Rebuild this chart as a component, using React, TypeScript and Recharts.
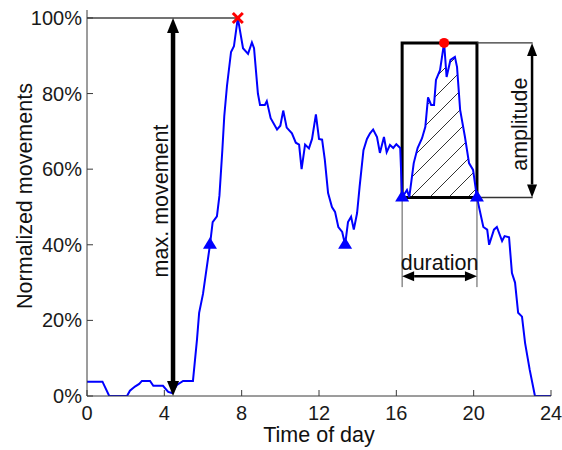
import React from 'react';
import {
  ComposedChart,
  Line,
  Area,
  XAxis,
  YAxis,
  ReferenceLine,
  ReferenceArea,
  ReferenceDot,
} from 'recharts';

// hour of day and normalized movement
const hours = [
  0, 0.8, 1.15, 2.07, 2.22, 2.48, 2.7, 2.84, 3.26, 3.43, 3.93, 4.2, 4.4, 4.65, 4.97, 5.48,
  5.69, 5.8, 6.0, 6.36, 6.5, 6.72, 6.85, 7.0, 7.1, 7.24, 7.45, 7.6, 7.8, 8.07, 8.33, 8.53,
  8.64, 8.84, 8.95, 9.2, 9.3, 9.5, 9.83, 10.0, 10.15, 10.33, 10.6, 10.8, 10.97, 11.1, 11.28,
  11.48, 11.64, 11.84, 12.0, 12.16, 12.3, 12.47, 12.67, 12.83, 13.0, 13.2, 13.35, 13.5,
  13.66, 13.8, 13.97, 14.1, 14.3, 14.48, 14.64, 14.8, 15.0, 15.15, 15.36, 15.5, 15.67,
  15.84, 16.0, 16.2, 16.3, 16.55, 16.67, 16.9, 17.1, 17.33, 17.5, 17.64, 17.8, 17.95, 18.05,
  18.26, 18.47, 18.6, 18.8, 19.03, 19.14, 19.3, 19.55, 19.76, 19.97, 20.17, 20.5, 20.7,
  20.8, 21.05, 21.2, 21.47, 21.6, 21.83, 21.98, 22.14, 22.3, 22.5, 22.66, 22.9, 23.17, 24,
];
const movement = [
  0.038, 0.038, 0, 0, 0.014, 0.025, 0.032, 0.04, 0.04, 0.027, 0.027, 0.011, 0.008, 0.029,
  0.04, 0.04, 0.15, 0.22, 0.27, 0.4, 0.46, 0.475, 0.53, 0.65, 0.74, 0.82, 0.91, 0.925, 1.0,
  0.92, 0.905, 0.935, 0.92, 0.8, 0.77, 0.77, 0.78, 0.735, 0.705, 0.715, 0.755, 0.71, 0.695,
  0.67, 0.665, 0.6, 0.665, 0.655, 0.68, 0.745, 0.68, 0.678, 0.625, 0.537, 0.5, 0.487, 0.447,
  0.434, 0.4, 0.46, 0.474, 0.44, 0.484, 0.553, 0.65, 0.68, 0.695, 0.705, 0.685, 0.643, 0.685,
  0.645, 0.664, 0.656, 0.666, 0.656, 0.525, 0.545, 0.526, 0.616, 0.656, 0.682, 0.712, 0.79,
  0.77, 0.77, 0.836, 0.862, 0.934, 0.844, 0.889, 0.897, 0.87, 0.757, 0.685, 0.616, 0.598,
  0.525, 0.447, 0.44, 0.4, 0.44, 0.447, 0.41, 0.423, 0.42, 0.325, 0.3, 0.22, 0.21, 0.14,
  0.069, 0, 0,
];

const xTicks = [0, 4, 8, 12, 16, 20, 24];
const yTicks = [0, 0.2, 0.4, 0.6, 0.8, 1.0];

const onsets = [
  { hour: 6.36, value: 0.4 },
  { hour: 13.35, value: 0.4 },
  { hour: 16.3, value: 0.525 },
  { hour: 20.17, value: 0.525 },
];
const dayPeak = { hour: 7.8, value: 1.0 };
const eventPeak = { hour: 18.47, value: 0.934 };
const eventStart = 16.3;
const eventEnd = 20.17;
const eventBase = 0.525;
const maxArrowHour = 4.45;
const amplitudeArrowHour = 23.02;
const amplitudeGuideEnd = 23.05;
const durationArrowLevel = 0.317;
const durationGuideBottom = 0.288;

const rows = hours.map((h, i) => ({
  hour: h,
  movement: movement[i],
  hatch: h >= eventStart && h <= eventEnd ? movement[i] : null,
}));

const FONT = '"Liberation Sans", Arial, sans-serif';
const AXIS = '#3a3a3a';

const doubleArrow = (head: number, half: number, width: number) => (props: any) => {
  const { x1, y1, x2, y2 } = props;
  const dx = x2 - x1;
  const dy = y2 - y1;
  const len = Math.hypot(dx, dy) || 1;
  const ux = dx / len;
  const uy = dy / len;
  const px = -uy;
  const py = ux;
  const ax = x1 + ux * head;
  const ay = y1 + uy * head;
  const bx = x2 - ux * head;
  const by = y2 - uy * head;
  return (
    <g>
      <line x1={ax} y1={ay} x2={bx} y2={by} stroke="#000" strokeWidth={width} />
      <polygon
        points={`${x1},${y1} ${ax + px * half},${ay + py * half} ${ax - px * half},${ay - py * half}`}
        fill="#000"
      />
      <polygon
        points={`${x2},${y2} ${bx + px * half},${by + py * half} ${bx - px * half},${by - py * half}`}
        fill="#000"
      />
    </g>
  );
};

const note = (text: string, dx: number, dy: number, rotate: boolean) => (props: any) => (
  <text
    transform={`translate(${props.cx + dx},${props.cy + dy})${rotate ? ' rotate(-90)' : ''}`}
    textAnchor="middle"
    fontSize={21.5}
    fontFamily={FONT}
    fill="#111"
  >
    {text}
  </text>
);

const triangle = (props: any) => (
  <polygon
    points={`${props.cx},${props.cy - 7.5} ${props.cx - 7},${props.cy + 4} ${props.cx + 7},${props.cy + 4}`}
    fill="#0000ff"
  />
);

const cross = (props: any) => (
  <g stroke="#ff0000" strokeWidth={3}>
    <line x1={props.cx - 5} y1={props.cy - 5} x2={props.cx + 5} y2={props.cy + 5} />
    <line x1={props.cx - 5} y1={props.cy + 5} x2={props.cx + 5} y2={props.cy - 5} />
  </g>
);

const tickStyle = { fill: '#1a1a1a', fontSize: 20, fontFamily: FONT };

export default function App() {
  return (
    <div style={{ position: 'absolute', left: 0, top: 0, background: '#fff' }}>
      <ComposedChart
        width={562}
        height={450}
        data={rows}
        margin={{ top: 10, right: 11, bottom: 0, left: 0 }}
        style={{ fontFamily: FONT }}
      >
        <defs>
          <pattern id="hatch" patternUnits="userSpaceOnUse" width={19} height={19}>
            <path d="M-1,1 l2,-2 M0,19 l19,-19 M18,20 l2,-2" stroke="#333" strokeWidth={1} />
          </pattern>
        </defs>
        <XAxis
          dataKey="hour"
          type="number"
          domain={[0, 24]}
          ticks={xTicks}
          tickSize={-6}
          tickMargin={16}
          height={54}
          stroke={AXIS}
          tick={tickStyle}
          label={{
            value: 'Time of day',
            position: 'insideBottom',
            offset: 8,
            fontSize: 21.5,
            fill: '#111',
          }}
        />
        <XAxis
          xAxisId="top"
          orientation="top"
          dataKey="hour"
          type="number"
          domain={[0, 24]}
          ticks={xTicks}
          tickSize={-6}
          height={0}
          tick={false}
          stroke={AXIS}
        />
        <YAxis
          type="number"
          domain={[0, 1.021]}
          ticks={yTicks}
          allowDataOverflow
          width={87}
          tickSize={-6}
          tickMargin={11}
          stroke={AXIS}
          tick={tickStyle}
          tickFormatter={(v) => `${Math.round(v * 100)}%`}
          label={{
            content: (p: any) => (
              <text
                transform={`translate(${p.viewBox.x + 32},${p.viewBox.y + p.viewBox.height / 2 - 7}) rotate(-90)`}
                textAnchor="middle"
                fontSize={21.5}
                fontFamily={FONT}
                fill="#111"
              >
                Normalized movements
              </text>
            ),
          }}
        />
        <YAxis
          yAxisId="right"
          orientation="right"
          type="number"
          domain={[0, 1.021]}
          ticks={yTicks}
          allowDataOverflow
          width={0}
          tickSize={-6}
          tick={false}
          stroke={AXIS}
        />
        <Area
          type="linear"
          dataKey="hatch"
          baseValue={eventBase}
          fill="url(#hatch)"
          fillOpacity={1}
          stroke="none"
          isAnimationActive={false}
        />
        <Line
          type="linear"
          dataKey="movement"
          stroke="#0000ff"
          strokeWidth={2}
          dot={false}
          activeDot={false}
          isAnimationActive={false}
        />
        <ReferenceLine
          segment={[
            { x: 0, y: dayPeak.value },
            { x: dayPeak.hour, y: dayPeak.value },
          ]}
          stroke="#444"
          strokeWidth={1.5}
        />
        <ReferenceLine
          segment={[
            { x: maxArrowHour, y: dayPeak.value },
            { x: maxArrowHour, y: 0 },
          ]}
          shape={doubleArrow(15, 6, 4.5)}
        />
        <ReferenceArea
          x1={eventStart}
          x2={eventEnd}
          y1={eventBase}
          y2={eventPeak.value}
          fill="none"
          stroke="#000"
          strokeWidth={3}
        />
        <ReferenceLine
          segment={[
            { x: eventEnd, y: eventPeak.value },
            { x: amplitudeGuideEnd, y: eventPeak.value },
          ]}
          stroke="#333"
          strokeWidth={1.3}
        />
        <ReferenceLine
          segment={[
            { x: eventEnd, y: eventBase },
            { x: amplitudeGuideEnd, y: eventBase },
          ]}
          stroke="#333"
          strokeWidth={1.3}
        />
        <ReferenceLine
          segment={[
            { x: amplitudeArrowHour, y: eventPeak.value },
            { x: amplitudeArrowHour, y: eventBase },
          ]}
          shape={doubleArrow(13, 5, 2.5)}
        />
        <ReferenceLine
          segment={[
            { x: eventStart, y: eventBase },
            { x: eventStart, y: durationGuideBottom },
          ]}
          stroke="#555"
          strokeWidth={1}
        />
        <ReferenceLine
          segment={[
            { x: eventEnd, y: eventBase },
            { x: eventEnd, y: durationGuideBottom },
          ]}
          stroke="#555"
          strokeWidth={1}
        />
        <ReferenceLine
          segment={[
            { x: eventStart, y: durationArrowLevel },
            { x: eventEnd, y: durationArrowLevel },
          ]}
          shape={doubleArrow(12, 5, 2.5)}
        />
        <ReferenceDot
          x={maxArrowHour}
          y={dayPeak.value / 2}
          r={0}
          shape={note('max. movement', -5, -6, true)}
        />
        <ReferenceDot
          x={amplitudeArrowHour}
          y={(eventPeak.value + eventBase) / 2}
          r={0}
          shape={note('amplitude', -5, 4, true)}
        />
        <ReferenceDot
          x={(eventStart + eventEnd) / 2}
          y={durationArrowLevel}
          r={0}
          shape={note('duration', 0, -6, false)}
        />
        {onsets.map((o, i) => (
          <ReferenceDot key={i} x={o.hour} y={o.value} r={7} shape={triangle} />
        ))}
        <ReferenceDot x={dayPeak.hour} y={dayPeak.value} r={6} shape={cross} />
        <ReferenceDot
          x={eventPeak.hour}
          y={eventPeak.value}
          r={5}
          fill="#ff0000"
          stroke="none"
        />
      </ComposedChart>
    </div>
  );
}
